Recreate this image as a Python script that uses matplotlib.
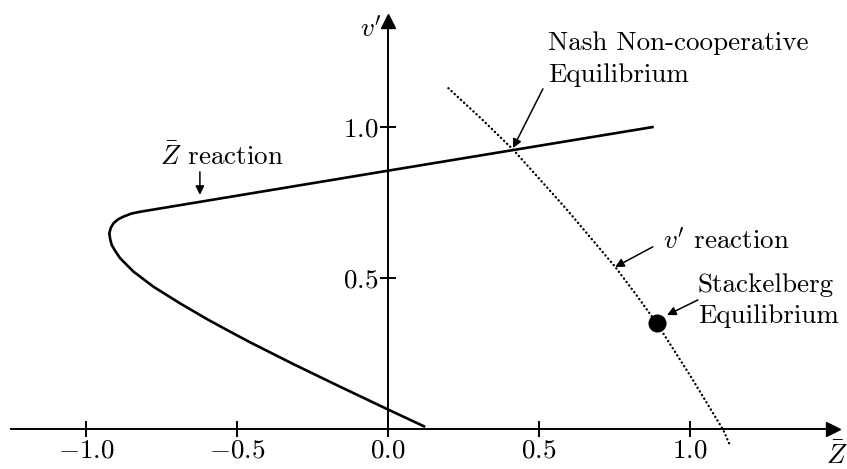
import matplotlib
matplotlib.use("Agg")
import matplotlib.pyplot as plt

plt.rcParams['font.family'] = 'serif'
plt.rcParams['font.serif'] = ['cmr10', 'DejaVu Serif']
plt.rcParams['mathtext.fontset'] = 'cm'
plt.rcParams['axes.unicode_minus'] = False

# Zbar reaction curve
zbar_Z = [0.123, 0.001, -0.159, -0.314, -0.457, -0.534, -0.600, -0.689, -0.777,
          -0.843, -0.887, -0.902, -0.915, -0.920, -0.923, -0.918, -0.909,
          -0.894, -0.876, -0.850, -0.821, 0.0, 0.88]
zbar_v = [0.007, 0.064, 0.140, 0.215, 0.287, 0.328, 0.364, 0.416, 0.471,
          0.521, 0.565, 0.587, 0.609, 0.628, 0.648, 0.666, 0.681,
          0.694, 0.703, 0.713, 0.719, 0.855, 1.0]

# v' reaction curve (dotted)
vp_Z = [0.200, 0.310, 0.415, 0.589, 0.752, 0.822, 0.890, 1.003, 1.110, 1.132]
vp_v = [1.128, 1.026, 0.924, 0.730, 0.537, 0.444, 0.350, 0.173, -0.003, -0.053]

stackelberg = (0.89, 0.350)

xticks = [-1.0, -0.5, 0.0, 0.5, 1.0]
xticklabels = ['$-1.0$', '$-0.5$', '$0.0$', '$0.5$', '$1.0$']
yticks = [0.5, 1.0]
yticklabels = ['$0.5$', '$1.0$']

fig = plt.figure(figsize=(8.47, 4.69), dpi=100)
ax = fig.add_axes([0, 0, 1, 1])
ax.set_xlim(-1.285, 1.52)
ax.set_ylim(-0.1325, 1.42)

fs = 19.5

# axes through the origin with arrow heads
for s in ['top', 'right']:
    ax.spines[s].set_visible(False)
ax.spines['left'].set_position(('data', 0))
ax.spines['bottom'].set_position(('data', 0))
ax.spines['left'].set_bounds(0, 1.35)
ax.spines['bottom'].set_bounds(-1.25, 1.47)
for s in ['left', 'bottom']:
    ax.spines[s].set_linewidth(1.4)
ax.plot(1.472, 0, marker='>', color='black', markersize=10, clip_on=False)
ax.plot(0, 1.352, marker='^', color='black', markersize=10, clip_on=False)

ax.set_xticks(xticks)
ax.set_xticklabels(xticklabels, fontsize=fs)
ax.set_yticks(yticks)
ax.set_yticklabels(yticklabels, fontsize=fs)
ax.tick_params(direction='inout', length=12, width=1.4, pad=1)
ax.patch.set_visible(False)

ax.plot(zbar_Z, zbar_v, color='black', lw=1.9, solid_capstyle='butt',
        solid_joinstyle='round')
ax.plot(vp_Z, vp_v, color='black', lw=1.7, linestyle=(0, (0.1, 1.7)),
        dash_capstyle='round')
ax.plot(*stackelberg, 'o', color='black', markersize=12)

ax.text(-0.022, 1.298, "$v'$", fontsize=fs, ha='right', va='baseline')
ax.text(1.487, -0.116, r'$\bar{Z}$', fontsize=fs, ha='center', va='baseline')

arrow = dict(arrowstyle='-|>', color='black', lw=1.1, mutation_scale=13,
             shrinkA=0, shrinkB=0)
ax.annotate('', xy=(-0.623, 0.775), xytext=(-0.623, 0.851), arrowprops=arrow)
ax.annotate('', xy=(0.414, 0.930), xytext=(0.513, 1.126), arrowprops=arrow)
ax.annotate('', xy=(0.752, 0.536), xytext=(0.877, 0.603), arrowprops=arrow)
ax.annotate('', xy=(0.924, 0.377), xytext=(1.026, 0.427), arrowprops=arrow)

ax.text(-0.55, 0.874, r'$\bar{Z}$ reaction', fontsize=fs, ha='center',
        va='baseline')
ax.text(0.53, 1.255, 'Nash Non-cooperative', fontsize=fs, ha='left',
        va='baseline')
ax.text(0.53, 1.150, 'Equilibrium', fontsize=fs, ha='left', va='baseline')
ax.text(0.911, 0.599, "$v'$ reaction", fontsize=fs, ha='left', va='baseline')
ax.text(1.026, 0.454, 'Stackelberg', fontsize=fs, ha='left', va='baseline')
ax.text(1.026, 0.351, 'Equilibrium', fontsize=fs, ha='left', va='baseline')

fig.savefig('out.png', dpi=100)
